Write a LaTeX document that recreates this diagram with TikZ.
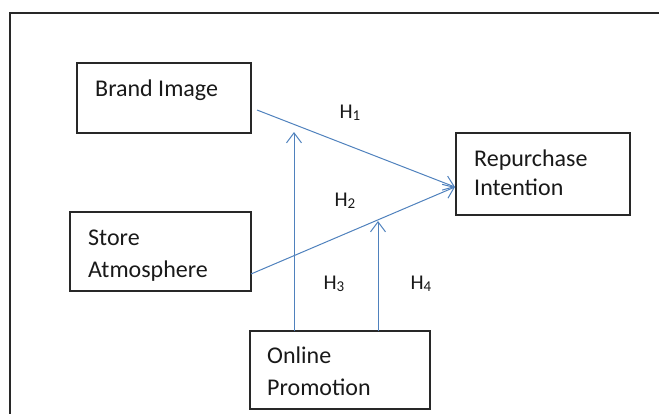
\documentclass[tikz,border=0pt]{standalone}
\usepackage{fontspec}
\setmainfont{Carlito}
\usetikzlibrary{arrows.meta}
\definecolor{arrowblue}{RGB}{79,129,189}
\definecolor{boxgray}{RGB}{40,40,40}
\newcommand{\hsub}[1]{H\raisebox{-0.25ex}{\fontsize{15}{18}\selectfont #1}}
\tikzset{
  box/.style={draw=boxgray, line width=1.3pt, rectangle, inner sep=0pt},
  txt/.style={anchor=base west, inner sep=0pt, font=\fontsize{24}{29}\selectfont, text=black!90},
  hlab/.style={anchor=base, inner sep=0pt, font=\fontsize{21}{25}\selectfont, text=black!90},
  conn/.style={draw=arrowblue, line width=1pt, -{Straight Barb[length=10pt,width=15pt]}}
}
\begin{document}
\begin{tikzpicture}[x=1pt,y=-1pt]
\useasboundingbox (0,0) rectangle (659,413);
% outer frame (open on right and bottom)
\draw[boxgray, line width=1.3pt] (10,420) -- (10,13) -- (670,13);
% boxes
\node[box, minimum width=174pt, minimum height=70pt] (bi) at (164,98) {};
\node[box, minimum width=174pt, minimum height=82pt] (ri) at (543,174) {};
\node[box, minimum width=181pt, minimum height=79pt] (sa) at (160.5,251.5) {};
\node[box, minimum width=180pt, minimum height=78pt] (op) at (340,370) {};
% texts
\node[txt] (tbi) at (95,96) {Brand Image};
\node[txt] (tri1) at (474,166) {Repurchase};
\node[txt] (tri2) at (474,195) {Intention};
\node[txt] (tsa1) at (88,245) {Store};
\node[txt] (tsa2) at (88,277) {Atmosphere};
\node[txt] (top1) at (267,363) {Online};
\node[txt] (top2) at (267,395) {Promotion};
% connector ends
\coordinate (h1s) at (257,110);
\coordinate (h2s) at (251,274);
\coordinate (rin) at (455,187);
\coordinate (h3s) at (294,331);
\coordinate (h3e) at (294,132);
\coordinate (h4s) at (378,331);
\coordinate (h4e) at (378,221);
\draw[conn] (h1s) -- (rin);
\draw[conn] (h2s) -- (rin);
\draw[conn] (h3s) -- (h3e);
\draw[conn] (h4s) -- (h4e);
% labels
\node[hlab] (l1) at (350,118) {\hsub{1}};
\node[hlab] (l2) at (345,206) {\hsub{2}};
\node[hlab] (l3) at (334,289) {\hsub{3}};
\node[hlab] (l4) at (421,289) {\hsub{4}};
\end{tikzpicture}
\end{document}
